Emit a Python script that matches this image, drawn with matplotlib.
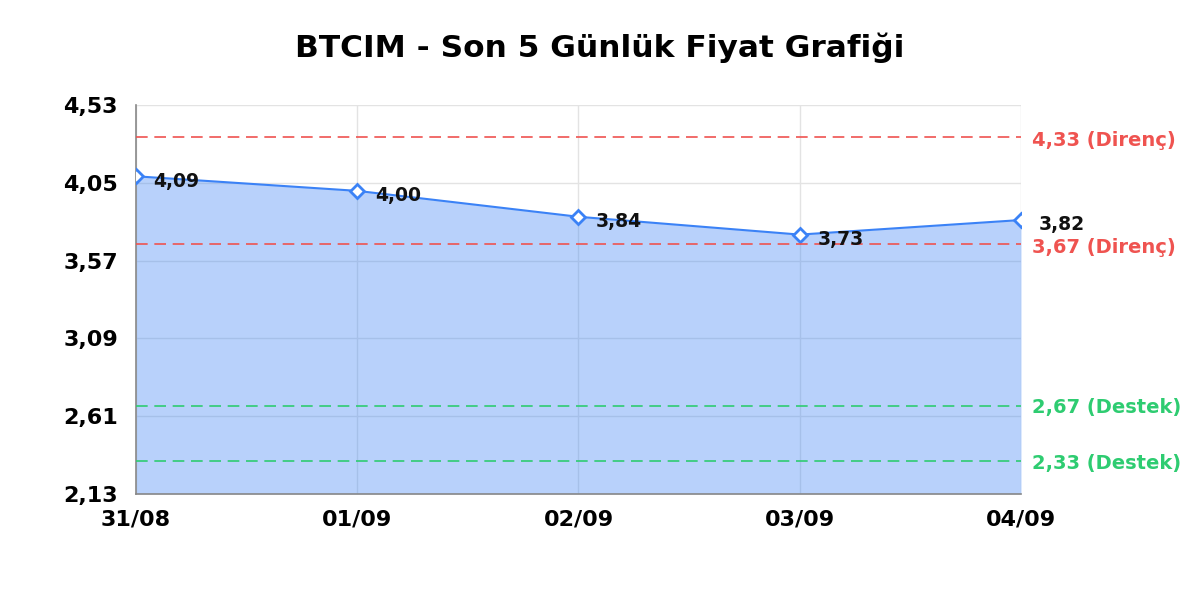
import matplotlib
matplotlib.use("Agg")
import matplotlib.pyplot as plt

dates = ["31/08", "01/09", "02/09", "03/09", "04/09"]
prices = [4.09, 4.00, 3.84, 3.73, 3.82]
resistance = [4.33, 3.67]
support = [2.67, 2.33]
yticks = [2.13, 2.61, 3.09, 3.57, 4.05, 4.53]

def tr(v):
    return f"{v:.2f}".replace(".", ",")

fig = plt.figure(figsize=(12, 6), dpi=100)
ax = fig.add_axes([0.1133, 0.177, 0.7375, 0.648])

x = list(range(len(dates)))
ax.fill_between(x, prices, yticks[0], color="#3b82f6", alpha=0.36, linewidth=0, zorder=2)
ax.plot(x, prices, color="#3b82f6", linewidth=1.5, zorder=3,
        marker="D", markersize=7.5, markerfacecolor="white",
        markeredgecolor="#3b82f6", markeredgewidth=2)

for xi, p in zip(x, prices):
    ax.text(xi + 0.08, p - 0.03, tr(p), fontsize=13.5, fontweight="bold",
            va="center", ha="left", color="#111111", zorder=4)

for r in resistance:
    ax.axhline(r, color="#ef5350", linestyle=(0, (7, 4)), linewidth=1.2, zorder=3)
    ax.text(1.012, r - 0.02, f"{tr(r)} (Direnç)", transform=ax.get_yaxis_transform(),
            color="#ef5350", fontsize=14, fontweight="bold", va="center", ha="left")
for s in support:
    ax.axhline(s, color="#2ecc71", linestyle=(0, (7, 4)), linewidth=1.2, zorder=3)
    ax.text(1.012, s - 0.01, f"{tr(s)} (Destek)", transform=ax.get_yaxis_transform(),
            color="#2ecc71", fontsize=14, fontweight="bold", va="center", ha="left")

ax.set_xlim(0, len(x) - 1)
ax.set_ylim(yticks[0], yticks[-1])
ax.set_xticks(x)
ax.set_xticklabels(dates, fontsize=16, fontweight="bold")
ax.set_yticks(yticks)
ax.set_yticklabels([tr(t) for t in yticks], fontsize=16, fontweight="bold")
ax.tick_params(axis="x", length=0, pad=11)
ax.tick_params(axis="y", length=0, pad=13)
ax.grid(True, color="#e3e3e3", linewidth=1, zorder=1)
ax.set_axisbelow(True)
for side in ["top", "right"]:
    ax.spines[side].set_visible(False)
for side in ["left", "bottom"]:
    ax.spines[side].set_color("#888888")
    ax.spines[side].set_linewidth(1.2)

fig.text(0.5, 0.92, "BTCIM - Son 5 Günlük Fiyat Grafiği", fontsize=22.5,
         fontweight="bold", ha="center", va="center")

fig.savefig("out.png", dpi=100)
